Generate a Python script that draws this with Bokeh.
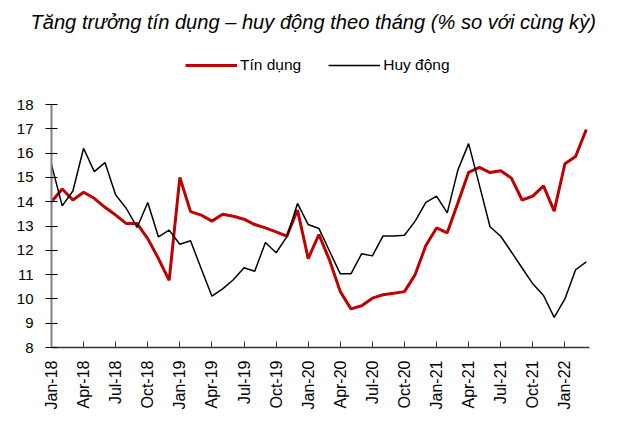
import math
from bokeh.plotting import figure
from bokeh.models import Range1d, FixedTicker, Legend, LegendItem
from bokeh.embed import file_html
from bokeh.resources import INLINE

months = ["Jan-18","Feb-18","Mar-18","Apr-18","May-18","Jun-18","Jul-18","Aug-18","Sep-18","Oct-18","Nov-18","Dec-18",
          "Jan-19","Feb-19","Mar-19","Apr-19","May-19","Jun-19","Jul-19","Aug-19","Sep-19","Oct-19","Nov-19","Dec-19",
          "Jan-20","Feb-20","Mar-20","Apr-20","May-20","Jun-20","Jul-20","Aug-20","Sep-20","Oct-20","Nov-20","Dec-20",
          "Jan-21","Feb-21","Mar-21","Apr-21","May-21","Jun-21","Jul-21","Aug-21","Sep-21","Oct-21","Nov-21","Dec-21",
          "Jan-22","Feb-22","Mar-22"]

tin_dung = [14.0, 14.52, 14.07, 14.39, 14.14, 13.77, 13.45, 13.1, 13.1, 12.48, 11.66, 10.76,
            15.0, 13.59, 13.45, 13.2, 13.48, 13.4, 13.28, 13.06, 12.92, 12.76, 12.58, 13.66,
            11.66, 12.65, 11.59, 10.3, 9.59, 9.72, 10.03, 10.17, 10.23, 10.3, 11.0, 12.2,
            12.92, 12.72, 13.96, 15.21, 15.41, 15.2, 15.27, 14.97, 14.07, 14.23, 14.65, 13.61,
            15.56, 15.86, 16.97]

huy_dong = [15.52, 13.83, 14.44, 16.2, 15.24, 15.61, 14.28, 13.72, 12.94, 13.97, 12.55, 12.83,
            12.25, 12.39, 11.24, 10.11, 10.41, 10.79, 11.28, 11.14, 12.32, 11.9, 12.55, 13.93,
            13.06, 12.9, 11.96, 11.03, 11.03, 11.86, 11.77, 12.59, 12.59, 12.62, 13.2, 13.97,
            14.23, 13.54, 15.31, 16.39, 14.69, 12.97, 12.58, 11.93, 11.27, 10.62, 10.14, 9.24,
            10.0, 11.2, 11.52]

title_text = "Tăng trưởng tín dụng – huy động theo tháng (% so với cùng kỳ)"
legend_labels = ["Tín dụng", "Huy động"]
y_ticks = list(range(8, 19))

FONT = "Liberation Sans"

x = list(range(len(months)))
tick_idx = list(range(0, len(months), 3))

TOP = 34  # frame top (figure px)
H = 413
BOTTOM = H - 347
px_per_unit = (347 - 104) / 10.0
y_top = 18 + (104 - TOP) / px_per_unit

p = figure(width=620, height=H, output_backend="svg", toolbar_location=None,
           x_range=Range1d(0, 50.3), y_range=Range1d(8, y_top),
           min_border_left=51, min_border_right=31, min_border_top=TOP, min_border_bottom=BOTTOM)
p.outline_line_color = None
p.xgrid.visible = False
p.ygrid.visible = False

p.title.text = title_text
p.title.align = "left"
p.title.offset = -21
p.title.standoff = 4
p.title.text_font = FONT
p.title.text_font_size = "20.1px"
p.title.text_font_style = "italic"
p.title.text_color = "#000000"

r1 = p.line(x, tin_dung, line_color="#C00000", line_width=3)
r2 = p.line(x, huy_dong, line_color="#000000", line_width=1.5)

# axes
p.yaxis.bounds = (8, 18)
p.yaxis.ticker = FixedTicker(ticks=y_ticks)
p.yaxis.major_tick_in = 6
p.yaxis.major_tick_out = 6
p.yaxis.minor_tick_line_color = None
p.yaxis.axis_line_color = "#808080"
p.yaxis.axis_line_width = 2
p.yaxis.major_tick_line_color = "#000000"
p.yaxis.major_label_text_font = FONT
p.yaxis.major_label_text_font_size = "15px"
p.yaxis.major_label_text_color = "#000000"
p.yaxis.major_label_standoff = 12

p.xaxis.ticker = FixedTicker(ticks=tick_idx)
p.xaxis.major_label_overrides = {i: months[i] for i in tick_idx}
p.xaxis.major_label_orientation = math.pi / 2
p.xaxis.major_tick_in = 6
p.xaxis.major_tick_out = 0
p.xaxis.minor_tick_line_color = None
p.xaxis.axis_line_color = "#333333"
p.xaxis.axis_line_width = 1.5
p.xaxis.major_tick_line_color = "#333333"
p.xaxis.major_label_text_font = FONT
p.xaxis.major_label_text_font_size = "16px"
p.xaxis.major_label_text_color = "#000000"
p.xaxis.major_label_standoff = 13

legend = Legend(items=[LegendItem(label=legend_labels[0], renderers=[r1]),
                       LegendItem(label=legend_labels[1], renderers=[r2])],
                location=(134, 272), orientation="horizontal",
                glyph_width=52, glyph_height=20, label_standoff=3, spacing=27,
                padding=0, margin=0, border_line_alpha=0, background_fill_alpha=0,
                label_text_font=FONT, label_text_font_size="15.5px", label_text_color="#000000")
p.add_layout(legend, "center")

open("out.html", "w").write(file_html(p, INLINE))
